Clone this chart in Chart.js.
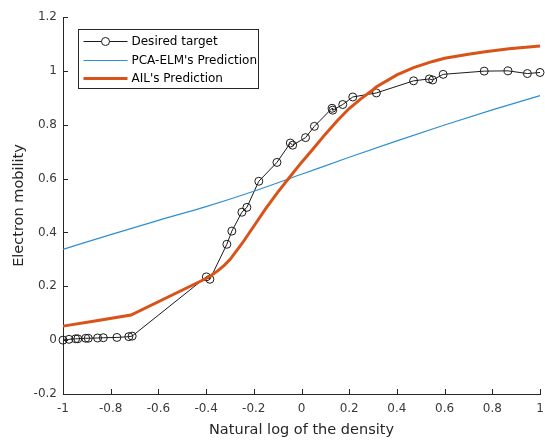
<!DOCTYPE html>
<html>
<head>
<meta charset="utf-8">
<script src="https://cdn.jsdelivr.net/npm/chart.js@4.4.1/dist/chart.umd.min.js"></script>
<style>
  html, body { margin: 0; padding: 0; background: #ffffff; }
  #wrap { width: 545px; height: 441px; }
</style>
</head>
<body>
<div id="wrap"><canvas id="c" width="545" height="441"></canvas></div>
<script>
// Measured electron mobility against natural log of the density
const targetX = [-1.0, -0.975, -0.947, -0.938, -0.905, -0.894, -0.855, -0.831, -0.774, -0.724, -0.710,
                 -0.399, -0.384, -0.313, -0.292, -0.250, -0.229, -0.179, -0.103, -0.047, -0.037,
                 0.017, 0.054, 0.128, 0.131, 0.173, 0.215, 0.314, 0.470, 0.536, 0.550, 0.594,
                 0.766, 0.866, 0.947, 1.0];
const targetY = [0.000, 0.003, 0.005, 0.005, 0.007, 0.007, 0.008, 0.009, 0.010, 0.013, 0.015,
                 0.235, 0.226, 0.356, 0.405, 0.475, 0.493, 0.590, 0.660, 0.732, 0.724,
                 0.752, 0.794, 0.861, 0.854, 0.875, 0.903, 0.918, 0.963, 0.970, 0.966, 0.987,
                 0.999, 1.000, 0.990, 0.994];

// PCA-ELM model output
const pcaX = [-1.0, -0.8, -0.6, -0.4, -0.2, 0.0, 0.2, 0.4, 0.6, 0.8, 1.0];
const pcaY = [0.337, 0.392, 0.445, 0.496, 0.553, 0.616, 0.679, 0.740, 0.799, 0.855, 0.908];

// AIL model output
const ailX = [-1.0, -0.866, -0.715, -0.40, -0.385, -0.35, -0.325, -0.30, -0.25, -0.20, -0.15, -0.10,
              -0.05, 0.0, 0.05, 0.10, 0.15, 0.20, 0.25, 0.30, 0.313, 0.40, 0.47, 0.55, 0.60, 0.70,
              0.77, 0.87, 1.0];
const ailY = [0.052, 0.071, 0.093, 0.229, 0.236, 0.258, 0.277, 0.299, 0.358, 0.423, 0.488, 0.549,
              0.605, 0.660, 0.712, 0.765, 0.815, 0.860, 0.897, 0.930, 0.940, 0.985, 1.012, 1.035,
              1.047, 1.062, 1.071, 1.082, 1.092];

const xTicks = [-1, -0.8, -0.6, -0.4, -0.2, 0, 0.2, 0.4, 0.6, 0.8, 1];
const yTicks = [-0.2, 0, 0.2, 0.4, 0.6, 0.8, 1, 1.2];

const seriesNames = ['Desired target', "PCA-ELM's Prediction", "AIL's Prediction"];
const axisTitles = ['Natural log of the density', 'Electron mobility'];

const FONT = 'DejaVu Sans, Liberation Sans, sans-serif';
const AXIS_COLOR = '#262626';
const LABEL_COLOR = '#3a3a3a';

const toPoints = (xs, ys) => xs.map((x, i) => ({ x: x, y: ys[i] }));
const fmt = v => String(Number(v.toFixed(1)));

// Tick marks pointing into the plot area
const inwardTicks = {
  id: 'inwardTicks',
  beforeDatasetsDraw(chart) {
    const { ctx, chartArea } = chart;
    const xs = chart.scales.x, ys = chart.scales.y;
    ctx.save();
    ctx.strokeStyle = AXIS_COLOR;
    ctx.lineWidth = 1;
    ctx.beginPath();
    xs.ticks.forEach(t => {
      const p = Math.round(xs.getPixelForValue(t.value)) + 0.5;
      ctx.moveTo(p, chartArea.bottom);
      ctx.lineTo(p, chartArea.bottom - 5);
    });
    ys.ticks.forEach(t => {
      const p = Math.round(ys.getPixelForValue(t.value)) + 0.5;
      ctx.moveTo(chartArea.left, p);
      ctx.lineTo(chartArea.left + 5, p);
    });
    ctx.stroke();
    ctx.restore();
  }
};

// Boxed legend in the upper-left corner of the plot area
const boxedLegend = {
  id: 'boxedLegend',
  afterDraw(chart) {
    const { ctx, chartArea } = chart;
    const bx = chartArea.left + 15.5, by = chartArea.top + 12.5, bw = 180, bh = 59;
    ctx.save();
    ctx.fillStyle = '#ffffff';
    ctx.fillRect(bx, by, bw, bh);
    ctx.strokeStyle = AXIS_COLOR;
    ctx.lineWidth = 1;
    ctx.strokeRect(bx, by, bw, bh);
    ctx.font = '12px ' + FONT;
    ctx.textBaseline = 'middle';
    ctx.textAlign = 'left';
    chart.data.datasets.forEach((ds, i) => {
      const cy = Math.round(by + 11.5 + i * 18.5) + 0.5;
      const x0 = bx + 5, x1 = bx + 49;
      ctx.strokeStyle = ds.borderColor;
      ctx.lineWidth = ds.borderWidth;
      ctx.beginPath();
      ctx.moveTo(x0, cy);
      ctx.lineTo(x1, cy);
      ctx.stroke();
      if (ds.pointRadius > 0) {
        ctx.fillStyle = '#ffffff';
        ctx.beginPath();
        ctx.arc((x0 + x1) / 2, cy, ds.pointRadius, 0, Math.PI * 2);
        ctx.fill();
        ctx.strokeStyle = ds.pointBorderColor;
        ctx.lineWidth = ds.pointBorderWidth;
        ctx.stroke();
      }
      ctx.fillStyle = '#000000';
      ctx.fillText(ds.label, x1 + 4, cy);
    });
    ctx.restore();
  }
};

new Chart(document.getElementById('c'), {
  type: 'line',
  data: {
    datasets: [
      {
        label: seriesNames[0],
        data: toPoints(targetX, targetY),
        borderColor: '#1a1a1a',
        borderWidth: 1,
        pointRadius: 4,
        pointBorderColor: '#1a1a1a',
        pointBackgroundColor: 'rgba(0,0,0,0)',
        pointBorderWidth: 1,
        tension: 0,
        clip: false,
        order: 3
      },
      {
        label: seriesNames[1],
        data: toPoints(pcaX, pcaY),
        borderColor: '#2f8fd3',
        borderWidth: 1.2,
        pointRadius: 0,
        cubicInterpolationMode: 'monotone',
        clip: false,
        order: 2
      },
      {
        label: seriesNames[2],
        data: toPoints(ailX, ailY),
        borderColor: '#d95319',
        borderWidth: 3,
        pointRadius: 0,
        tension: 0,
        clip: false,
        order: 1
      }
    ]
  },
  options: {
    responsive: false,
    animation: false,
    devicePixelRatio: 1,
    layout: { padding: { top: 17, right: 4, left: 0, bottom: 0 } },
    plugins: {
      legend: { display: false },
      tooltip: { enabled: false }
    },
    scales: {
      x: {
        type: 'linear',
        min: -1,
        max: 1,
        afterBuildTicks: s => { s.ticks = xTicks.map(v => ({ value: v })); },
        afterFit: s => { s.height = 47; s.paddingLeft = 0; s.paddingRight = 0; },
        grid: { display: false, drawTicks: false },
        border: { display: true, color: AXIS_COLOR, width: 1 },
        ticks: {
          padding: 8,
          maxRotation: 0,
          autoSkip: false,
          color: LABEL_COLOR,
          font: { family: FONT, size: 12 },
          callback: v => fmt(v)
        },
        title: {
          display: true,
          text: axisTitles[0],
          color: AXIS_COLOR,
          font: { family: FONT, size: 14.5 },
          padding: { top: 0, bottom: 2 }
        }
      },
      y: {
        type: 'linear',
        min: -0.2,
        max: 1.2,
        afterBuildTicks: s => { s.ticks = yTicks.map(v => ({ value: v })); },
        afterFit: s => { s.width = 63; s.paddingTop = 0; s.paddingBottom = 0; },
        grid: { display: false, drawTicks: false },
        border: { display: true, color: AXIS_COLOR, width: 1 },
        ticks: {
          padding: 6,
          autoSkip: false,
          color: LABEL_COLOR,
          font: { family: FONT, size: 12 },
          callback: v => fmt(v)
        },
        title: {
          display: true,
          text: axisTitles[1],
          color: AXIS_COLOR,
          font: { family: FONT, size: 14.5 },
          padding: { top: 11, bottom: 0 }
        }
      }
    }
  },
  plugins: [inwardTicks, boxedLegend]
});
</script>
</body>
</html>
